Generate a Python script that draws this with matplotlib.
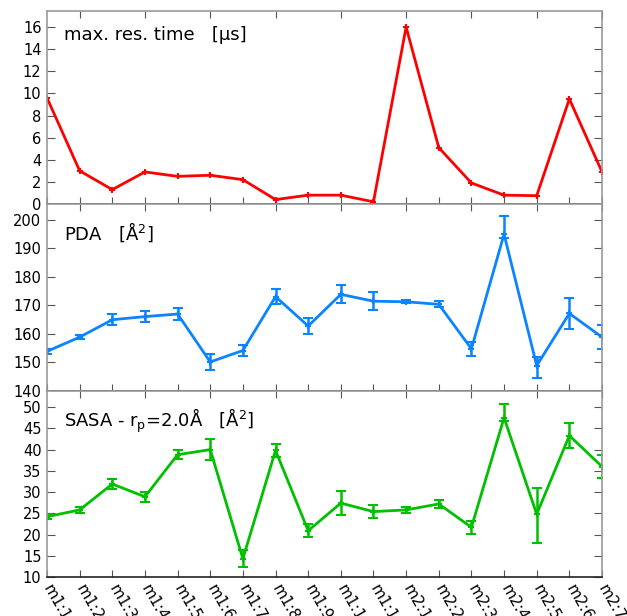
import matplotlib
matplotlib.use("Agg")
import matplotlib.pyplot as plt
import numpy as np

labels = ["m1:1", "m1:2", "m1:3", "m1:4", "m1:5", "m1:6", "m1:7", "m1:8", "m1:9",
          "m1:10", "m1:11", "m2:1", "m2:2", "m2:3", "m2:4", "m2:5", "m2:6", "m2:7"]

res_time = [9.6, 3.0, 1.3, 2.9, 2.5, 2.6, 2.2, 0.4, 0.8, 0.8, 0.2,
            16.0, 5.1, 1.9, 0.8, 0.75, 9.5, 2.9]

pda = [153.9, 158.9, 165.0, 166.1, 167.0, 150.2, 154.2, 173.1, 162.8,
       173.9, 171.5, 171.3, 170.4, 154.8, 195.0, 148.9, 167.2, 158.9]
pda_err_lo = [0.9, 0.8, 2.0, 1.9, 2.2, 2.9, 1.8, 2.7, 2.7,
              3.2, 3.2, 0.5, 1.0, 2.4, 1.5, 4.2, 5.4, 4.1]
pda_err_hi = [0.9, 0.8, 2.0, 1.9, 2.2, 2.9, 1.8, 2.7, 2.7,
              3.2, 3.2, 0.5, 1.0, 2.4, 6.5, 2.9, 5.4, 4.1]

sasa = [24.2, 25.8, 31.9, 28.9, 38.8, 40.0, 14.3, 39.8, 20.9,
        27.4, 25.4, 25.8, 27.2, 21.7, 47.5, 24.8, 43.3, 36.0]
sasa_err_lo = [0.6, 0.7, 1.1, 1.2, 1.1, 2.4, 2.0, 1.6, 1.5,
               2.9, 1.5, 0.7, 1.0, 1.5, 0.8, 6.7, 3.0, 2.8]
sasa_err_hi = [0.6, 0.7, 1.1, 1.2, 1.1, 2.4, 2.0, 1.6, 1.5,
               2.9, 1.5, 0.7, 1.0, 1.5, 3.3, 6.2, 3.0, 2.8]

x = np.arange(len(labels))

W, H = 627, 616
fig = plt.figure(figsize=(W / 100, H / 100), dpi=100)

def frac(left, top, right, bottom):
    return [left / W, 1 - bottom / H, (right - left) / W, (bottom - top) / H]

ax1 = fig.add_axes(frac(47, 11, 602, 204))
ax2 = fig.add_axes(frac(47, 204, 602, 391))
ax3 = fig.add_axes(frac(47, 391, 602, 577))

red = "#ff0000"
blue = "#0a84ff"
green = "#00c000"

ax1.plot(x, res_time, color=red, lw=2.0, marker="+", ms=5, mew=1.5)
ax2.errorbar(x, pda, yerr=[pda_err_lo, pda_err_hi], color=blue, lw=2.0,
             elinewidth=1.8, capsize=3.3, capthick=1.8, marker="+", ms=5, mew=1.5)
ax3.errorbar(x, sasa, yerr=[sasa_err_lo, sasa_err_hi], color=green, lw=2.0,
             elinewidth=1.8, capsize=3.3, capthick=1.8, marker="+", ms=5, mew=1.5)

ax1.set_ylim(0, 17.45)
ax1.set_yticks(np.arange(0, 17, 2))
ax2.set_ylim(140, 205.6)
ax2.set_yticks(np.arange(140, 201, 10))
ax3.set_ylim(10, 53.8)
ax3.set_yticks(np.arange(10, 51, 5))

texts = ["max. res. time   [μs]",
         "PDA   [Å$\\mathregular{^2}$]",
         "SASA - r$\\mathregular{_p}$=2.0Å   [Å$\\mathregular{^2}$]"]
ypos = [35, 232, 421]
axes = [ax1, ax2, ax3]
for ax, t, yp in zip(axes, texts, ypos):
    ax.set_xlim(0, len(labels) - 1)
    ax.tick_params(axis="y", which="both", direction="in", left=True, right=True,
                   length=6, width=0.8, labelsize=10.5, color="#555555", pad=4)
    ax.tick_params(axis="x", which="both", direction="in", bottom=True, top=False,
                   length=5, width=0.8, color="#555555")
    ax.set_xticks(x)
    for s in ["top", "right", "left"]:
        ax.spines[s].set_color("#999999")
        ax.spines[s].set_linewidth(1.2)
    ax.spines["bottom"].set_color("#222222")
    ax.spines["bottom"].set_linewidth(1.2)
    sec = ax.secondary_xaxis("top")
    sec.set_xticks(x[1::2])
    sec.set_xticklabels([])
    sec.tick_params(direction="in", length=5, width=0.8, color="#555555")
    sec.spines["top"].set_visible(False)
    fig.text(64 / W, 1 - yp / H, t, fontsize=13, ha="left", va="center",
             family=["DejaVu Sans"])

ax1.set_xticklabels([])
ax2.set_xticklabels([])
ax3.set_xticklabels(labels, rotation=-60, ha="left", va="center",
                    rotation_mode="anchor", fontsize=11)
ax3.tick_params(axis="x", pad=6)

fig.savefig("out.png", dpi=100)
